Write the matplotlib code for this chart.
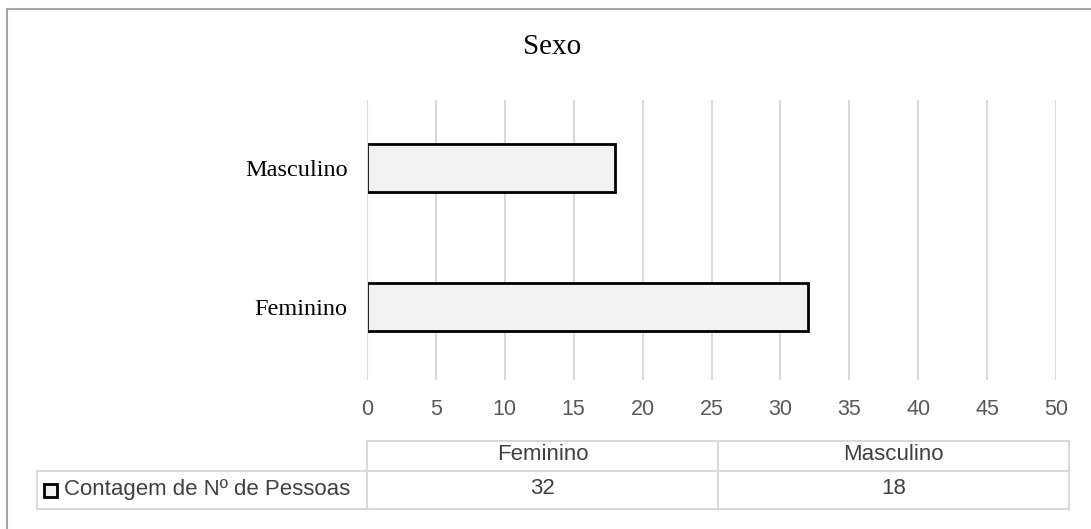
import matplotlib.pyplot as plt
from matplotlib.lines import Line2D
from matplotlib.patches import Rectangle

# dados do gráfico
titulo = 'Sexo'
categorias = ['Feminino', 'Masculino']
contagem = [32, 18]
serie = 'Contagem de Nº de Pessoas'
ticks_x = [0, 5, 10, 15, 20, 25, 30, 35, 40, 45, 50]

W, H = 1091, 529
fig = plt.figure(figsize=(W / 100, H / 100), dpi=100)

def fx(px):
    return px / W

def fy(py):
    return 1 - py / H

sans = ['Liberation Sans', 'DejaVu Sans']
serif = ['Liberation Serif', 'DejaVu Serif']
cinza = '#d9d9d9'
texto = '#404040'

# area do grafico
ax = fig.add_axes([fx(367), fy(380), fx(1056) - fx(367), fy(100) - fy(380)])
ax.barh(range(len(categorias)), contagem, height=0.345,
        color='#f2f2f2', edgecolor='black', linewidth=2, zorder=3)
ax.axvline(0, color=cinza, lw=1.5, zorder=4)
ax.set_xlim(0, 50)
ax.set_ylim(-0.525, 1.49)
ax.set_xticks(ticks_x)
ax.grid(axis='x', color=cinza, lw=1.5, zorder=0)
for s in ax.spines.values():
    s.set_visible(False)
ax.tick_params(length=0)
ax.set_yticks(range(len(categorias)))
ax.set_yticklabels(categorias, fontfamily=serif, fontsize=17.5)
ax.tick_params(axis='y', pad=14)
ax.tick_params(axis='x', pad=14, labelcolor='#595959', labelsize=15.5)
for lb in ax.get_xticklabels():
    lb.set_fontfamily(sans)

fig.text(fx(552), fy(47), titulo, ha='center', va='center',
         fontfamily=serif, fontsize=21)

# tabela de dados
x0, x1 = 367, 1069
xl = 37
y_top, y_mid, y_bot = 441, 471, 509
col_w = (x1 - x0) / len(categorias)

def linha(xa, xb, ya, yb):
    fig.add_artist(Line2D([fx(xa), fx(xb)], [fy(ya), fy(yb)], color=cinza, lw=1.5))

linha(x0, x1, y_top, y_top)
linha(xl, x1, y_mid, y_mid)
linha(xl, x1, y_bot, y_bot)
linha(xl, xl, y_mid, y_bot)
for i in range(len(categorias) + 1):
    xc = x0 + i * col_w
    linha(xc, xc, y_top, y_bot)

for i, (cat, val) in enumerate(zip(categorias, contagem)):
    xc = x0 + (i + 0.5) * col_w
    fig.text(fx(xc), fy(455), cat, ha='center', va='center',
             fontfamily=sans, fontsize=16, color=texto)
    fig.text(fx(xc), fy(489), str(val), ha='center', va='center',
             fontfamily=sans, fontsize=16, color=texto)

fig.add_artist(Rectangle((fx(44), fy(497)), fx(13), fy(484) - fy(497),
                         facecolor='#f2f2f2', edgecolor='black', lw=2))
fig.text(fx(64), fy(489), serie, ha='left', va='center',
         fontfamily=sans, fontsize=16, color=texto)

# moldura
borda = '#a6a6a6'
fig.add_artist(Line2D([fx(7), fx(7)], [fy(9), 0], color=borda, lw=1.5))
fig.add_artist(Line2D([fx(7), 1], [fy(9), fy(9)], color=borda, lw=1.5))

fig.savefig('out.png', dpi=100)
